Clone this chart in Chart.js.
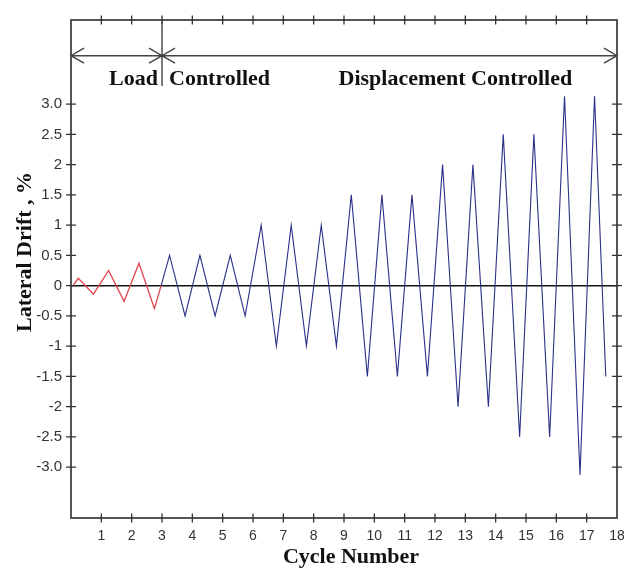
<!DOCTYPE html>
<html>
<head>
<meta charset="utf-8">
<script src="https://cdn.jsdelivr.net/npm/chart.js@4"></script>
<style>
  html, body { margin: 0; padding: 0; background: #ffffff; }
  #wrap { width: 624px; height: 569px; }
</style>
</head>
<body>
<div id="wrap"><canvas id="c" width="624" height="569"></canvas></div>
<script>
// ---- data ----
const loadX = [0.07, 0.24, 0.74, 1.24, 1.75, 2.24, 2.75, 2.97];
const loadY = [0, 0.12, -0.14, 0.25, -0.26, 0.37, -0.38, 0];

const dispX = [2.97, 3.25, 3.76, 4.25, 4.75, 5.25, 5.74, 6.27, 6.77, 7.26, 7.76, 8.25, 8.75,
               9.24, 9.77, 10.25, 10.76, 11.24, 11.75, 12.25, 12.76, 13.25, 13.76,
               14.25, 14.79, 15.26, 15.78, 16.27, 16.78, 17.26, 17.63];
const dispY = [0, 0.5, -0.5, 0.5, -0.5, 0.5, -0.5, 1, -1, 1, -1, 1, -1,
               1.5, -1.5, 1.5, -1.5, 1.5, -1.5, 2, -2, 2, -2,
               2.5, -2.5, 2.5, -2.5, 3.13, -3.13, 3.13, -1.5];

const xTickValues = [1, 2, 3, 4, 5, 6, 7, 8, 9, 10, 11, 12, 13, 14, 15, 16, 17, 18];
const xTickLabels = ['1','2','3','4','5','6','7','8','9','10','11','12','13','14','15','16','17','18'];
const yTickValues = [3, 2.5, 2, 1.5, 1, 0.5, 0, -0.5, -1, -1.5, -2, -2.5, -3];
const yTickLabels = ['3.0','2.5','2','1.5','1','0.5','0','-0.5','-1','-1.5','-2','-2.5','-3.0'];

const xRange = [0, 18];
const yRange = [-3.84, 4.39];
const phaseBoundary = 3;          // cycle where displacement control starts
const dispLabelCenter = 12.67;    // x value where "Displacement Controlled" is centred

const xTitle = 'Cycle Number';
const yTitle = 'Lateral Drift , %';
const loadText = 'Load';
const ctrlText = 'Controlled';
const dispText = 'Displacement Controlled';

// ---- build chart ----
const toPts = (xs, ys) => xs.map((x, i) => ({ x: x, y: ys[i] }));

const serifBold = '700 22px "Liberation Serif", "Times New Roman", serif';

const decor = {
  id: 'decor',
  afterDatasetsDraw(chart) {
    const { ctx, chartArea: a, scales } = chart;
    const xs = scales.x, ys = scales.y;
    ctx.save();
    // frame
    ctx.strokeStyle = '#555555';
    ctx.lineWidth = 2;
    ctx.strokeRect(a.left, a.top, a.right - a.left, a.bottom - a.top);

    // tick marks crossing all four sides
    ctx.lineWidth = 1.3;
    ctx.strokeStyle = '#333333';
    ctx.beginPath();
    xTickValues.forEach(v => {
      if (v >= xRange[1]) return;
      const px = xs.getPixelForValue(v);
      ctx.moveTo(px, a.bottom - 4.5); ctx.lineTo(px, a.bottom + 4.5);
      ctx.moveTo(px, a.top - 4.5); ctx.lineTo(px, a.top + 4.5);
    });
    yTickValues.forEach(v => {
      const py = ys.getPixelForValue(v);
      ctx.moveTo(a.left - 5, py); ctx.lineTo(a.left + 5, py);
      ctx.moveTo(a.right - 5, py); ctx.lineTo(a.right + 5, py);
    });
    ctx.stroke();

    // phase annotation: arrow line, vertical separator, arrowheads
    const bx = xs.getPixelForValue(phaseBoundary);
    const ay = a.top + 35.7;
    ctx.strokeStyle = '#444444';
    ctx.lineWidth = 1.4;
    ctx.beginPath();
    ctx.moveTo(a.left, ay); ctx.lineTo(a.right, ay);
    ctx.moveTo(bx, a.top); ctx.lineTo(bx, a.top + 66);
    const head = (x, dir) => {
      ctx.moveTo(x - dir * 13, ay - 7.5); ctx.lineTo(x, ay); ctx.lineTo(x - dir * 13, ay + 7.5);
    };
    head(a.left, -1);
    head(bx, 1);
    head(bx, -1);
    head(a.right, 1);
    ctx.stroke();

    // phase labels
    ctx.fillStyle = '#111111';
    ctx.font = serifBold;
    ctx.textBaseline = 'alphabetic';
    ctx.textAlign = 'right';
    ctx.fillText(loadText, bx - 4, a.top + 65);
    ctx.textAlign = 'left';
    ctx.fillText(ctrlText, bx + 7, a.top + 65);
    ctx.textAlign = 'center';
    ctx.fillText(dispText, xs.getPixelForValue(dispLabelCenter), a.top + 65);

    // axis titles
    ctx.fillText(xTitle, 351, 563);
    ctx.translate(31, 252);
    ctx.rotate(-Math.PI / 2);
    ctx.fillText(yTitle, 0, 0);
    ctx.restore();
  }
};

new Chart(document.getElementById('c'), {
  type: 'line',
  data: {
    datasets: [
      {
        label: 'Load controlled',
        data: toPts(loadX, loadY),
        borderColor: '#e0434d',
        borderWidth: 1.3,
        pointRadius: 0,
        tension: 0,
        fill: false
      },
      {
        label: 'Displacement controlled',
        data: toPts(dispX, dispY),
        borderColor: '#2b3088',
        borderWidth: 1.1,
        pointRadius: 0,
        tension: 0,
        fill: false
      }
    ]
  },
  options: {
    responsive: false,
    devicePixelRatio: 1,
    animation: false,
    parsing: true,
    layout: { autoPadding: false, padding: { left: 0, top: 20, right: 7, bottom: 0 } },
    plugins: { legend: { display: false }, tooltip: { enabled: false }, title: { display: false } },
    scales: {
      x: {
        type: 'linear',
        min: xRange[0],
        max: xRange[1],
        afterBuildTicks: s => { s.ticks = xTickValues.map(v => ({ value: v })); },
        afterFit: s => { s.height = 51; s.paddingLeft = 0; s.paddingRight = 0; },
        ticks: {
          padding: 10,
          color: '#333333',
          font: { family: '"Liberation Sans", Arial, sans-serif', size: 14 },
          maxRotation: 0,
          autoSkip: false,
          callback: v => { const i = xTickValues.indexOf(v); return i >= 0 ? xTickLabels[i] : ''; }
        },
        grid: { display: false, drawTicks: false },
        border: { display: false }
      },
      y: {
        type: 'linear',
        min: yRange[0],
        max: yRange[1],
        afterBuildTicks: s => { s.ticks = yTickValues.map(v => ({ value: v })); },
        afterFit: s => { s.width = 71; s.paddingTop = 0; s.paddingBottom = 0; },
        ticks: {
          padding: 9,
          color: '#333333',
          font: { family: '"Liberation Sans", Arial, sans-serif', size: 15 },
          autoSkip: false,
          callback: v => { const i = yTickValues.indexOf(v); return i >= 0 ? yTickLabels[i] : ''; }
        },
        grid: {
          drawTicks: false,
          drawOnChartArea: true,
          lineWidth: 1.4,
          color: c => (c.tick && c.tick.value === 0 ? '#111111' : 'rgba(0,0,0,0)')
        },
        border: { display: false }
      }
    }
  },
  plugins: [decor]
});
</script>
</body>
</html>
